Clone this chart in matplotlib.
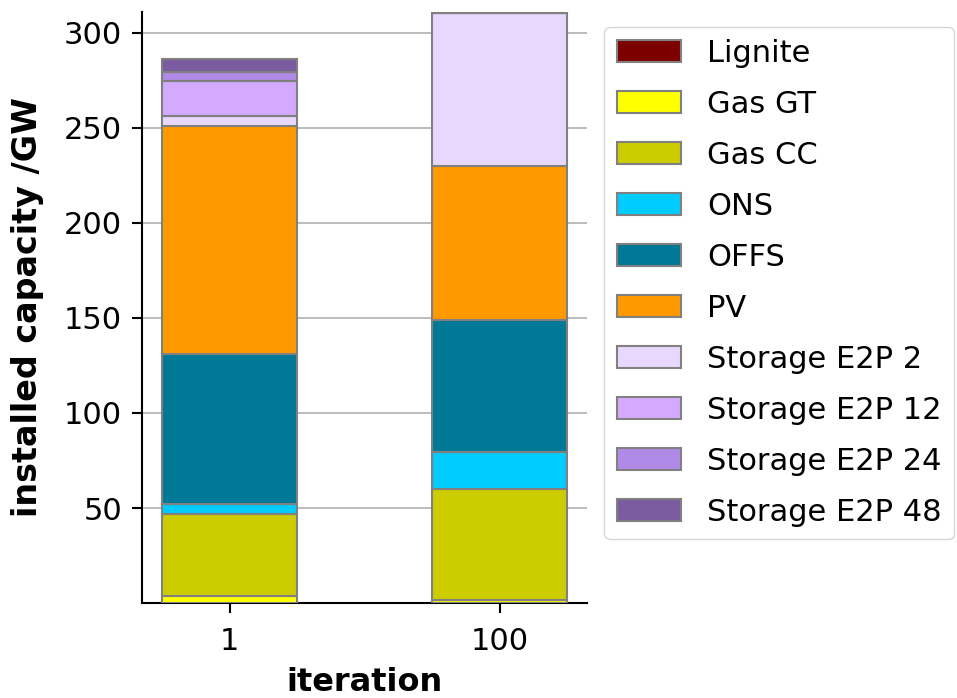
import numpy as np
import matplotlib.pyplot as plt

iterations = ['1', '100']
technologies = ['Lignite', 'Gas GT', 'Gas CC', 'ONS', 'OFFS', 'PV',
                'Storage E2P 2', 'Storage E2P 12', 'Storage E2P 24', 'Storage E2P 48']
colors = ['#7d0000', '#ffff00', '#cccc00', '#00ccff', '#007896', '#ff9900',
          '#e8d8ff', '#d4aaff', '#b08ae6', '#7b5ca0']

# installed capacity in GW per technology, for iteration 1 and 100
lignite = [0.0, 0.0]
gas_gt = [3.5, 1.5]
gas_cc = [43.5, 58.3]
ons = [5.0, 19.5]
offs = [79.0, 69.7]
pv = [120.0, 81.0]
e2p_2 = [5.0, 80.5]
e2p_12 = [18.5, 0.0]
e2p_24 = [5.0, 0.0]
e2p_48 = [6.5, 0.0]

series = [lignite, gas_gt, gas_cc, ons, offs, pv, e2p_2, e2p_12, e2p_24, e2p_48]

fig = plt.figure(figsize=(9.57, 6.98), dpi=100)
ax = fig.add_axes([0.148, 0.136, 0.465, 0.847])

x = np.arange(len(iterations))
bottom = np.zeros(len(iterations))
for name, vals, c in zip(technologies, series, colors):
    ax.bar(x, vals, width=0.5, bottom=bottom, color=c, edgecolor='#808080',
           linewidth=1.5, label=name, zorder=3)
    bottom += np.array(vals)

ax.set_xlim(-0.326, 1.322)
ax.set_ylim(0, 311)
ax.set_xticks(x)
ax.set_xticklabels(iterations)
ax.set_yticks([50, 100, 150, 200, 250, 300])
ax.tick_params(labelsize=22, length=7, width=1.5)
ax.tick_params(axis='x', pad=10)
ax.tick_params(axis='y', pad=7)
ax.yaxis.grid(True, color='#b0b0b0', linewidth=1.2, zorder=0)
ax.set_axisbelow(True)
for s in ['top', 'right']:
    ax.spines[s].set_visible(False)
for s in ['left', 'bottom']:
    ax.spines[s].set_linewidth(1.5)

ax.set_xlabel('iteration', fontsize=23, fontweight='bold', labelpad=8)
ax.set_ylabel('installed capacity /GW', fontsize=24, fontweight='bold', labelpad=14)

ax.legend(loc='upper left', bbox_to_anchor=(1.04, 0.975), borderaxespad=0,
          fontsize=22, handlelength=2.1, handleheight=0.72, handletextpad=0.85,
          labelspacing=0.72, borderpad=0.4, frameon=True)

fig.savefig('out.png', dpi=100)
